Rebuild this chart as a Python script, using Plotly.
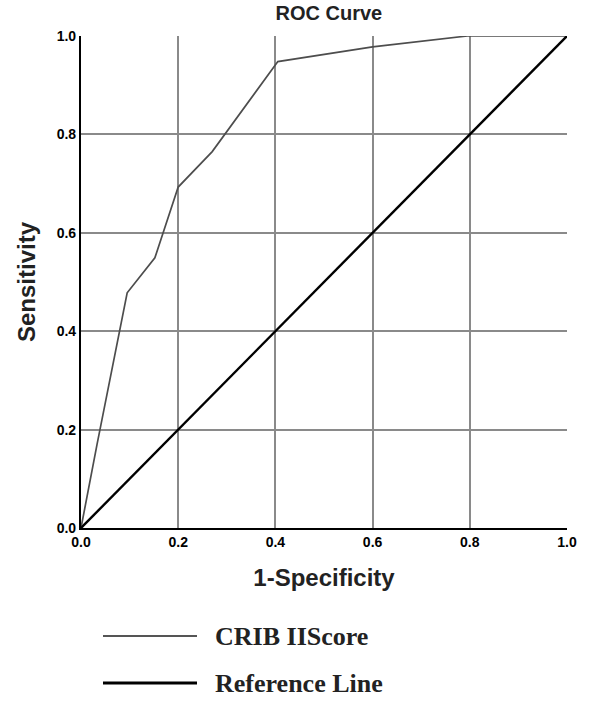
import plotly.graph_objects as go

# ROC curve data (1-Specificity, Sensitivity)
fpr = [0.0, 0.033, 0.095, 0.152, 0.200, 0.270, 0.405, 0.600, 0.795, 1.0]
tpr = [0.0, 0.170, 0.478, 0.549, 0.693, 0.765, 0.948, 0.978, 1.000, 1.0]
ref_x = [0.0, 1.0]
ref_y = [0.0, 1.0]
tick_vals = [0.0, 0.2, 0.4, 0.6, 0.8, 1.0]
tick_text = ["0.0", "0.2", "0.4", "0.6", "0.8", "1.0"]
legend_names = ["CRIB IIScore", "Reference Line"]

W, H = 589, 703
L, R, T, B = 81, 22, 36, 175
ph = H - T - B
pw = W - L - R

fig = go.Figure()
fig.add_trace(go.Scatter(x=fpr, y=tpr, mode="lines", name=legend_names[0],
                         line=dict(color="#4d4d4d", width=1.7), showlegend=False))
fig.add_trace(go.Scatter(x=ref_x, y=ref_y, mode="lines", name=legend_names[1],
                         line=dict(color="#000000", width=2.4), showlegend=False))

tickfont = dict(family="Liberation Sans", size=14, color="black", weight="bold")
axis_common = dict(range=[0, 1], tickvals=tick_vals, ticktext=tick_text,
                   showgrid=True, gridcolor="#8a8a8a", gridwidth=1.6,
                   zeroline=False, showline=True, linecolor="black", linewidth=2.2,
                   ticks="", tickfont=tickfont, fixedrange=True)

fig.update_layout(
    width=W, height=H,
    margin=dict(l=L, r=R, t=T, b=B),
    plot_bgcolor="white", paper_bgcolor="white",
    title=dict(text="ROC Curve", x=0.51, xref="paper", y=1 - 13 / H, yref="container",
               xanchor="center", yanchor="middle",
               font=dict(family="Liberation Sans", size=20, color="#222222", weight="bold")),
    xaxis=dict(**axis_common,
               title=dict(text="1-Specificity", standoff=20,
                          font=dict(family="Liberation Sans", size=24, color="#222222", weight="bold"))),
    yaxis=dict(**axis_common,
               title=dict(text="Sensitivity", standoff=14,
                          font=dict(family="Liberation Sans", size=24, color="#222222", weight="bold"))),
)

# Custom legend below the chart
leg_rows = [(636, "#555555", 1.8), (683, "#000000", 2.8)]
for (ypx, col, lw), name in zip(leg_rows, legend_names):
    yp = (T + ph - ypx) / ph
    fig.add_shape(type="line", xref="paper", yref="paper",
                  x0=(103 - L) / pw, x1=(197 - L) / pw, y0=yp, y1=yp,
                  line=dict(color=col, width=lw))
    fig.add_annotation(text=name, xref="paper", yref="paper",
                       x=(213 - L) / pw, y=yp, xanchor="left", yanchor="middle",
                       showarrow=False,
                       font=dict(family="Liberation Serif", size=26, color="#222222", weight="bold"))

fig.write_html("out.html", config={"displayModeBar": False},
               post_script="document.body.style.margin='0';")
